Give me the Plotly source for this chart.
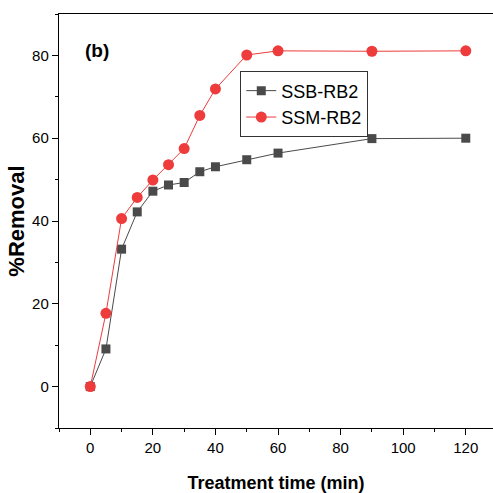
import plotly.graph_objects as go

time_min = [0, 5, 10, 15, 20, 25, 30, 35, 40, 50, 60, 90, 120]
ssb_rb2 = [0, 9.1, 33.2, 42.2, 47.2, 48.7, 49.3, 51.9, 53.1, 54.8, 56.4, 59.9, 60.0]
ssm_rb2 = [0, 17.7, 40.6, 45.7, 49.9, 53.6, 57.5, 65.5, 71.9, 80.1, 81.1, 81.0, 81.1]

FONT = "Liberation Sans, Arial, sans-serif"

fig = go.Figure()
fig.add_trace(go.Scatter(
    x=time_min, y=ssb_rb2, name="SSB-RB2", mode="lines+markers",
    line=dict(color="#4a4a4a", width=1),
    marker=dict(symbol="square", size=9, color="#4a4a4a"),
))
fig.add_trace(go.Scatter(
    x=time_min, y=ssm_rb2, name="SSM-RB2", mode="lines+markers",
    line=dict(color="#ee3b3b", width=1),
    marker=dict(symbol="circle", size=11, color="#ee3b3b"),
))

axis_common = dict(
    showgrid=False, zeroline=False, showline=True, linecolor="black", linewidth=1.4,
    ticks="outside", ticklen=6, tickwidth=1.3, tickcolor="black",
    tickfont=dict(family=FONT, size=15, color="black"),
    minor=dict(ticks="outside", ticklen=3, tickwidth=1.2, tickcolor="black", dtick=10),
)

fig.update_layout(
    width=493, height=493,
    margin=dict(l=59, r=0, t=14, b=65),
    paper_bgcolor="white", plot_bgcolor="white",
    font=dict(family=FONT, color="black"),
    xaxis=dict(
        range=[-10, 128.7], tick0=0, dtick=20, mirror=True,
        title=dict(text="<b>Treatment time (min)</b>", font=dict(family=FONT, size=18), standoff=22),
        **axis_common,
    ),
    yaxis=dict(
        range=[-10, 90], tick0=0, dtick=20,
        title=dict(text="<b>%Removal</b>", font=dict(family=FONT, size=22), standoff=1),
        **axis_common,
    ),
    legend=dict(
        x=0.417, y=0.862, xanchor="left", yanchor="top",
        bordercolor="#333333", borderwidth=1.3, bgcolor="white",
        font=dict(family=FONT, size=18, color="black"),
        tracegroupgap=0, itemwidth=30,
    ),
    showlegend=True,
)

fig.add_annotation(
    text="<b>(b)</b>", xref="paper", yref="paper",
    x=(83 - 59) / 434, y=(428 - 51) / 414, xanchor="left", yanchor="middle",
    showarrow=False, font=dict(family=FONT, size=19, color="black"),
)

fig.write_html("out.html")
